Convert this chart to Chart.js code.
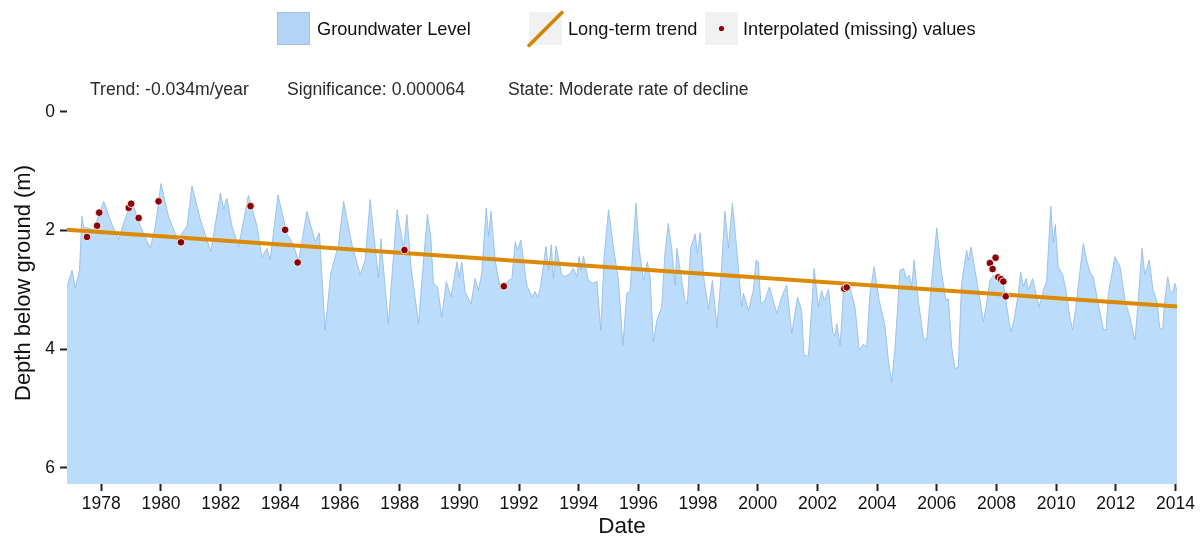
<!DOCTYPE html>
<html>
<head>
<meta charset="utf-8">
<script src="https://cdn.jsdelivr.net/npm/chart.js@4.4.1/dist/chart.umd.min.js"></script>
<style>
  html, body { margin: 0; padding: 0; background: #ffffff; }
  #wrap { width: 1201px; height: 540px; }
</style>
</head>
<body>
<div id="wrap"><canvas id="c" width="1201" height="540"></canvas></div>
<script>
// ---------------- DATA ----------------
const gwDates = [
 1976.85,1977.02,1977.13,1977.27,1977.35,1977.41,1977.74,1978.08,1978.36,1978.58,1978.75,1979.03,1979.31,1979.64,1979.81,
 1980.00,1980.25,1980.56,1980.87,1981.04,1981.32,1981.67,1981.99,1982.10,1982.21,1982.38,1982.60,1982.93,1983.22,1983.38,
 1983.55,1983.66,1983.92,1984.22,1984.44,1984.61,1984.89,1985.17,1985.31,1985.50,1985.69,1985.95,1986.12,1986.40,1986.68,
 1986.84,1987.01,1987.18,1987.29,1987.37,1987.62,1987.91,1988.13,1988.24,1988.37,1988.63,1988.80,1988.93,1989.04,1989.13,
 1989.27,1989.41,1989.56,1989.72,1989.92,1990.00,1990.08,1990.19,1990.39,1990.53,1990.64,1990.75,1990.90,1990.98,1991.06,
 1991.20,1991.37,1991.65,1991.76,1991.87,1991.95,1992.06,1992.26,1992.43,1992.54,1992.62,1992.71,1992.90,1992.99,1993.08,
 1993.15,1993.24,1993.43,1993.54,1993.71,1993.82,1993.94,1994.01,1994.08,1994.16,1994.32,1994.47,1994.61,1994.74,1994.85,
 1995.00,1995.16,1995.33,1995.48,1995.61,1995.72,1995.83,1995.92,1996.03,1996.17,1996.30,1996.39,1996.50,1996.62,1996.78,
 1996.89,1997.00,1997.12,1997.23,1997.29,1997.40,1997.56,1997.64,1997.75,1997.90,1997.98,1998.07,1998.20,1998.35,1998.48,
 1998.63,1998.76,1998.90,1999.02,1999.15,1999.30,1999.46,1999.52,1999.69,1999.85,1999.94,2000.02,2000.10,2000.24,2000.39,
 2000.52,2000.64,2000.80,2000.97,2001.14,2001.33,2001.47,2001.55,2001.70,2001.81,2001.89,2002.03,2002.14,2002.23,2002.37,
 2002.51,2002.59,2002.65,2002.76,2002.87,2003.09,2003.26,2003.40,2003.54,2003.65,2003.76,2003.90,2004.07,2004.26,2004.38,
 2004.49,2004.60,2004.77,2004.88,2004.99,2005.08,2005.16,2005.24,2005.38,2005.55,2005.66,2005.83,2006.00,2006.16,2006.31,
 2006.39,2006.50,2006.61,2006.72,2006.83,2007.00,2007.06,2007.15,2007.28,2007.45,2007.56,2007.67,2007.78,2007.92,2008.23,
 2008.40,2008.48,2008.59,2008.73,2008.81,2008.90,2008.99,2009.07,2009.21,2009.35,2009.43,2009.57,2009.68,2009.82,2009.90,
 2009.97,2010.07,2010.22,2010.33,2010.46,2010.55,2010.69,2010.80,2010.91,2011.02,2011.13,2011.24,2011.41,2011.58,2011.67,
 2011.75,2011.97,2012.14,2012.31,2012.47,2012.64,2012.75,2012.88,2012.97,2013.12,2013.25,2013.37,2013.48,2013.57,2013.64,
 2013.74,2013.82,2013.90,2013.98,2014.05
];
const gwDepth = [
 2.95,2.67,2.97,2.67,1.76,1.94,1.99,1.51,1.90,2.15,1.87,1.51,1.93,2.30,1.93,
 1.21,1.76,2.16,1.93,1.25,1.82,2.36,1.37,1.64,1.46,1.93,2.28,1.41,1.93,2.45,
 2.30,2.50,1.40,2.06,2.24,2.53,1.68,2.19,2.04,3.68,2.72,2.24,1.51,2.24,2.75,
 2.50,1.48,2.30,2.80,2.14,3.57,1.65,2.30,1.73,2.58,3.57,2.50,1.73,2.10,2.89,
 2.95,3.46,2.86,3.12,2.53,2.78,2.53,3.03,3.23,2.81,3.01,2.72,1.62,2.10,1.68,
 2.50,2.98,2.84,2.81,2.19,2.33,2.16,2.92,3.12,3.03,3.12,2.98,2.27,2.67,2.24,
 2.81,2.26,2.75,2.78,2.72,2.64,2.78,2.44,2.67,2.43,2.84,2.89,2.86,3.68,2.44,
 1.65,2.27,2.84,3.94,3.06,3.01,2.19,1.54,2.33,2.84,2.53,2.78,3.88,3.51,3.29,
 2.38,1.88,2.33,2.92,2.30,2.67,3.18,3.23,2.30,2.06,2.39,2.04,2.84,3.32,2.84,
 3.63,2.84,1.68,2.30,1.54,2.33,3.29,3.06,3.35,3.01,2.50,2.53,3.23,3.18,2.95,
 3.18,3.40,3.12,2.92,3.74,3.12,3.35,4.11,4.11,3.29,2.64,3.29,3.01,3.18,2.99,
 3.71,3.77,3.57,3.94,3.04,2.95,3.29,4.02,3.91,3.97,3.06,2.61,3.18,3.60,4.19,
 4.56,3.97,2.67,2.64,2.81,2.75,2.95,2.50,3.18,3.80,3.85,2.84,1.96,2.72,3.18,
 3.15,3.97,4.33,4.30,2.89,2.33,2.50,2.28,2.67,3.18,3.54,3.23,2.84,2.75,2.89,
 3.46,3.71,3.51,3.06,2.70,2.95,2.81,3.01,2.81,3.12,3.29,3.01,2.86,1.59,2.21,
 1.90,2.61,2.75,3.01,3.46,3.68,3.18,2.67,2.22,2.50,2.70,2.78,3.23,3.66,3.68,
 3.06,2.44,2.61,3.18,3.46,3.85,3.18,2.30,2.75,2.50,3.01,3.18,3.66,3.66,3.18,
 2.78,3.01,3.06,2.89,3.01
];
const interpDates = [1977.52,1977.86,1977.93,1978.92,1979.00,1979.25,1979.92,1980.67,1983.00,1984.16,1984.58,1988.16,
                     1991.49,2002.90,2002.98,2007.78,2007.87,2007.97,2008.06,2008.15,2008.23,2008.31];
const interpDepth = [2.11,1.92,1.70,1.62,1.55,1.79,1.51,2.20,1.59,1.99,2.54,2.33,
                     2.94,2.98,2.96,2.55,2.65,2.46,2.79,2.82,2.86,3.11];
const trendDates = [1976.85, 2014.05];
const trendDepth = [1.99, 3.28];
const xTickYears = [1978,1980,1982,1984,1986,1988,1990,1992,1994,1996,1998,2000,2002,2004,2006,2008,2010,2012,2014];
const yTickValues = [0, 2, 4, 6];
const seriesNames = ['Groundwater Level', 'Long-term trend', 'Interpolated (missing) values'];
const annotationTexts = ['Trend: -0.034m/year', 'Significance: 0.000064', 'State: Moderate rate of decline'];
const xRange = [1976.85, 2014.05];
const yRange = [-0.5, 6.27];

// ---------------- CHART ----------------
const FONT = '"Liberation Sans", Arial, Helvetica, sans-serif';
Chart.defaults.font.family = FONT;

const zip = (xs, ys) => xs.map((x, i) => ({ x: x, y: ys[i] }));

const overlayPlugin = {
  id: 'overlay',
  afterDraw(chart) {
    const ctx = chart.ctx;
    ctx.save();
    // legend
    const boxY = 12, boxS = 33;
    const legendBoxX = [277, 529, 705];
    const legendTextX = [317, 568, 743];
    // box 1 : fill key
    ctx.fillStyle = '#b4d4f5';
    ctx.fillRect(legendBoxX[0], boxY, boxS, boxS);
    ctx.strokeStyle = '#9ec1e8';
    ctx.lineWidth = 1;
    ctx.strokeRect(legendBoxX[0] + 0.5, boxY + 0.5, boxS - 1, boxS - 1);
    // box 2 : line key
    ctx.fillStyle = '#f1f1f1';
    ctx.fillRect(legendBoxX[1], boxY, boxS, boxS);
    ctx.strokeStyle = '#d58200';
    ctx.lineWidth = 3.5;
    ctx.beginPath();
    ctx.moveTo(legendBoxX[1] - 1, boxY + boxS + 1.5);
    ctx.lineTo(legendBoxX[1] + boxS + 1, boxY - 0.5);
    ctx.stroke();
    // box 3 : point key
    ctx.fillStyle = '#f1f1f1';
    ctx.fillRect(legendBoxX[2], boxY, boxS, boxS);
    ctx.fillStyle = '#8b0000';
    ctx.beginPath();
    ctx.arc(legendBoxX[2] + boxS / 2, boxY + boxS / 2, 2.6, 0, Math.PI * 2);
    ctx.fill();
    // legend texts
    ctx.fillStyle = '#111111';
    ctx.font = '18.2px ' + FONT;
    ctx.textBaseline = 'middle';
    ctx.textAlign = 'left';
    seriesNames.forEach((t, i) => ctx.fillText(t, legendTextX[i], boxY + boxS / 2 + 1));
    // annotations
    const annX = [90, 287, 508];
    ctx.fillStyle = '#2a2a2a';
    ctx.font = '17.6px ' + FONT;
    annotationTexts.forEach((t, i) => ctx.fillText(t, annX[i], 90));
    ctx.restore();
  }
};

new Chart(document.getElementById('c').getContext('2d'), {
  type: 'line',
  data: {
    datasets: [
      {
        label: seriesNames[2],
        data: zip(interpDates, interpDepth),
        showLine: false,
        pointRadius: 3.8,
        pointBackgroundColor: '#8b0000',
        pointBorderColor: 'rgba(255,255,255,0.85)',
        pointBorderWidth: 1,
        order: 0
      },
      {
        label: seriesNames[1],
        data: zip(trendDates, trendDepth),
        borderColor: '#dc8905',
        borderWidth: 4,
        pointRadius: 0,
        fill: false,
        order: 1
      },
      {
        label: seriesNames[0],
        data: zip(gwDates, gwDepth),
        borderColor: 'rgba(150,190,232,0.9)',
        borderWidth: 1,
        backgroundColor: '#bbdcfa',
        pointRadius: 0,
        tension: 0,
        fill: { value: yRange[1] },
        order: 2
      }
    ]
  },
  options: {
    responsive: false,
    animation: false,
    events: [],
    layout: { padding: { top: 82, right: 24, left: 0, bottom: 0 } },
    plugins: { legend: { display: false }, tooltip: { enabled: false } },
    scales: {
      x: {
        type: 'linear',
        min: xRange[0],
        max: xRange[1],
        afterBuildTicks: (s) => { s.ticks = xTickYears.map(v => ({ value: v })); },
        afterFit: (s) => { s.height = 56; },
        ticks: {
          autoSkip: false, maxRotation: 0, minRotation: 0,
          callback: (v) => String(v),
          font: { size: 17.5 }, color: '#111111', padding: 3
        },
        grid: { display: true, drawOnChartArea: false, drawTicks: true, tickLength: 7, tickColor: '#222222', tickWidth: 2 },
        border: { display: false },
        title: { display: true, text: 'Date', font: { size: 22.5 }, color: '#111111', padding: { top: 0, bottom: 0 } }
      },
      y: {
        type: 'linear',
        reverse: true,
        min: yRange[0],
        max: yRange[1],
        afterBuildTicks: (s) => { s.ticks = yTickValues.map(v => ({ value: v })); },
        afterFit: (s) => { s.width = 67; },
        ticks: {
          callback: (v) => String(v),
          font: { size: 17.5 }, color: '#111111', padding: 5
        },
        grid: { display: true, drawOnChartArea: false, drawTicks: true, tickLength: 7, tickColor: '#222222', tickWidth: 2 },
        border: { display: false },
        title: { display: true, text: 'Depth below ground (m)', font: { size: 22 }, color: '#111111', padding: { top: 11, bottom: 0 } }
      }
    }
  },
  plugins: [overlayPlugin]
});
</script>
</body>
</html>
